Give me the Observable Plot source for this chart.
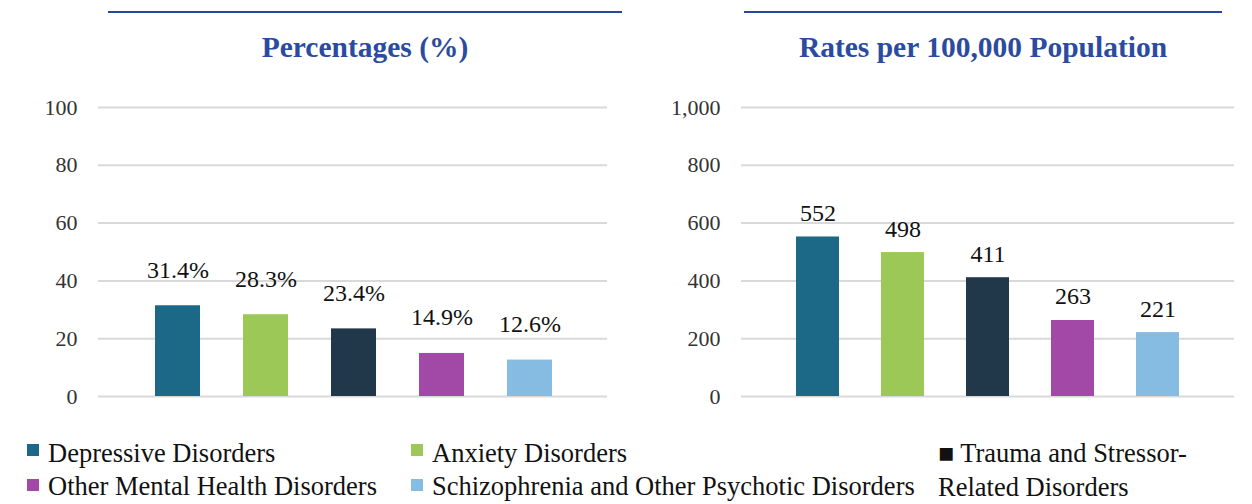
<!DOCTYPE html>
<html>
<head>
<meta charset="utf-8">
<script src="https://cdn.jsdelivr.net/npm/d3@7"></script>
<script src="https://cdn.jsdelivr.net/npm/@observablehq/plot@0.6"></script>
<style>
  html, body { margin: 0; padding: 0; background: #fff; }
  #root { position: relative; width: 1252px; height: 504px; overflow: hidden; font-family: "Liberation Serif", "Times New Roman", serif; }
  .topline { position: absolute; height: 2px; background: #27489a; top: 11px; }
  .title { position: absolute; top: 27px; font-weight: bold; font-size: 29.5px; line-height: 40px; color: #2b4ba0; text-align: center; white-space: nowrap; }
  .chart { position: absolute; top: 90px; }
  .leg { position: absolute; font-size: 26.5px; line-height: 26px; color: #111; white-space: nowrap; }
  .sw { position: absolute; width: 12px; height: 12px; }
</style>
</head>
<body>
<div id="root"></div>
<script>
// ---- data ----
const categories = ["Depressive Disorders", "Anxiety Disorders", "Trauma and Stressor-Related Disorders", "Other Mental Health Disorders", "Schizophrenia and Other Psychotic Disorders"];
const colors = ["#1c6987", "#9bc857", "#203849", "#a248a6", "#86bbe2"];
const percentages = [31.4, 28.3, 23.4, 14.9, 12.6];
const rates = [552, 498, 411, 263, 221];
const pctTicks = [0, 20, 40, 60, 80, 100];
const rateTicks = [0, 200, 400, 600, 800, 1000];
const titles = ["Percentages (%)", "Rates per 100,000 Population"];

const root = document.getElementById("root");

function addDiv(cls, style, text) {
  const d = document.createElement("div");
  d.className = cls;
  Object.assign(d.style, style);
  if (text != null) d.textContent = text;
  root.appendChild(d);
  return d;
}

// top rules and titles
addDiv("topline", {left: "108px", width: "514px"});
addDiv("topline", {left: "744px", width: "478px"});
addDiv("title", {left: "165px", width: "400px"}, titles[0]);
addDiv("title", {left: "783px", width: "400px"}, titles[1]);

const serif = "'Liberation Serif', 'Times New Roman', serif";

function makeChart(values, ticks, opts) {
  const data = categories.map((c, i) => ({cat: c, value: values[i], color: colors[i]}));
  const chart = Plot.plot({
    width: 626,
    height: 330,
    marginTop: 17,
    marginBottom: 24,
    marginLeft: opts.marginLeft,
    marginRight: opts.marginRight,
    style: `font-family: ${serif}; font-size: 22px; color: #333; background: transparent;`,
    x: {domain: categories, axis: null, paddingInner: opts.padInner, paddingOuter: opts.padInner / 2, insetLeft: opts.insetLeft, insetRight: opts.insetRight},
    y: {domain: [ticks[0], ticks[ticks.length - 1]], ticks: ticks, tickSize: 0, tickPadding: 21, tickFormat: opts.tickFormat, label: null},
    marks: [
      Plot.ruleY(ticks, {stroke: "#d9d9d9", strokeWidth: 2, strokeOpacity: 1}),
      Plot.barY(data, {x: "cat", y: "value", fill: "color"}),
      Plot.text(data, {x: "cat", y: "value", text: d => opts.labelFormat(d.value), lineAnchor: "bottom", dy: opts.labelDy, fontSize: 24, fontFamily: serif, fill: "#111"})
    ]
  });
  chart.classList.add("chart");
  chart.style.left = opts.left + "px";
  root.appendChild(chart);
}

makeChart(percentages, pctTicks, {
  left: 0, marginLeft: 98, marginRight: 19, insetLeft: 35, insetRight: 34, padInner: 0.49,
  tickFormat: d3.format("d"), labelFormat: v => v.toFixed(1) + "%", labelDy: -28
});
makeChart(rates, rateTicks, {
  left: 626, marginLeft: 115, marginRight: 18, insetLeft: 31.5, insetRight: 32.5, padInner: 0.5,
  tickFormat: d3.format(","), labelFormat: v => d3.format(",")(v), labelDy: -16
});

// legend
const legendPos = [
  {i: 0, x: 27, row: 0},
  {i: 1, x: 411, row: 0},
  {i: 3, x: 27, row: 1},
  {i: 4, x: 411, row: 1}
];
const rowTop = [440, 473];
const swTop = [444, 479];
legendPos.forEach(p => {
  addDiv("sw", {left: p.x + "px", top: swTop[p.row] + "px", background: colors[p.i]});
  addDiv("leg", {left: (p.x + 21) + "px", top: rowTop[p.row] + "px"}, categories[p.i]);
});
// Trauma item: wrapped text with a black square glyph
const parts = categories[2].split("-");
addDiv("leg", {left: "938px", top: rowTop[0] + "px"}, "\u25A0 " + parts[0] + "-");
addDiv("leg", {left: "938px", top: (rowTop[0] + 34) + "px"}, parts[1]);
</script>
</body>
</html>
